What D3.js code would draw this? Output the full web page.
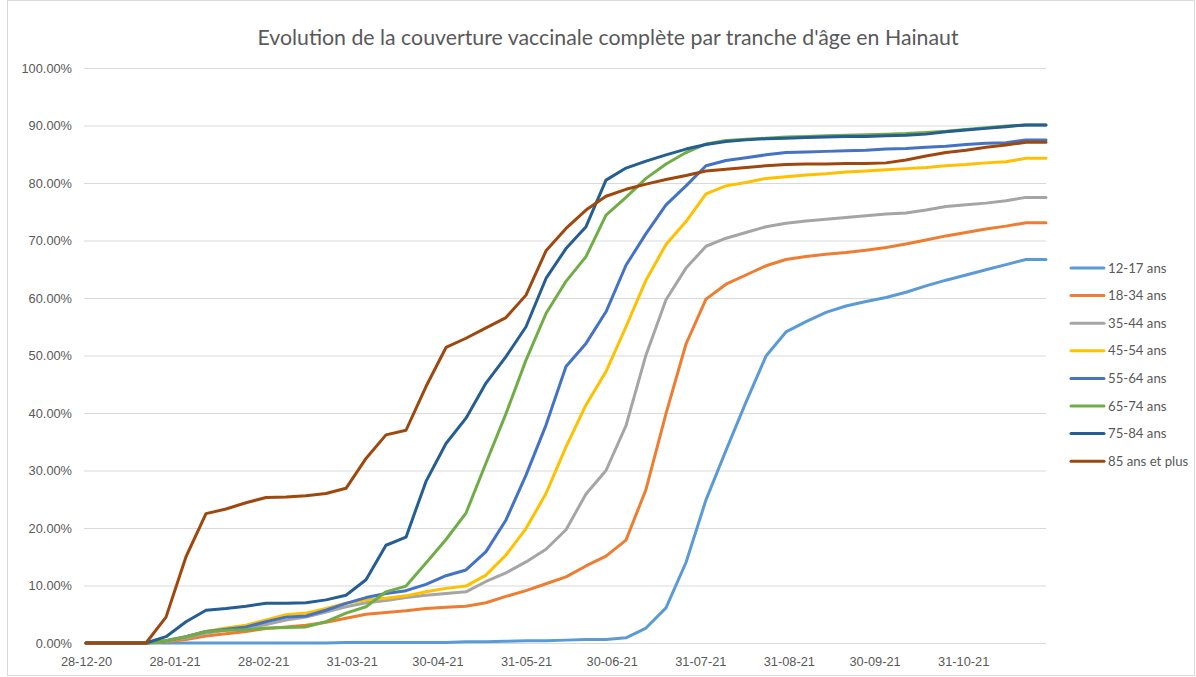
<!DOCTYPE html>
<html lang="fr">
<head>
<meta charset="utf-8">
<script src="https://cdn.jsdelivr.net/npm/d3@7"></script>
<title>Couverture vaccinale Hainaut</title>
<style>
  body { margin: 0; background: #fff; }
  svg { display: block; font-family: Lato, "Liberation Sans", sans-serif; }
  .grid line { stroke: #d9d9d9; stroke-width: 1; }
  .tick text { fill: #595959; font-size: 12.8px; }
</style>
</head>
<body>
<svg width="1196" height="677"></svg>
<script>
// semaines (lundis) du 28-12-20 au 29-11-21
var startDate = "2020-12-28";
var endDate = "2021-11-29";

var seriesNames = ["12-17 ans", "18-34 ans", "35-44 ans", "45-54 ans",
                   "55-64 ans", "65-74 ans", "75-84 ans", "85 ans et plus"];
var seriesColors = ["#5b9bd5", "#ed7d31", "#a5a5a5", "#ffc000",
                    "#4472c4", "#70ad47", "#255e91", "#9e480e"];

// valeurs en %
var v12_17 = [0,0,0,0,0,0,0,0,0,0,0,0,0,0.1,0.1,0.1,0.1,0.1,0.1,0.2,0.2,0.3,0.4,0.4,0.5,0.6,0.6,0.9,
  2.6,6.1,14.0,24.9,33.5,41.9,49.9,54.1,55.9,57.5,58.6,59.4,60.1,61.0,62.1,63.1,64.0,64.9,65.8,66.7,66.7];
var v18_34 = [0,0,0,0,0.2,0.6,1.2,1.6,2.0,2.5,2.8,3.1,3.6,4.3,5.0,5.3,5.6,6.0,6.2,6.4,7.0,8.1,9.1,10.3,11.5,13.4,15.1,17.9,
  26.7,39.9,52.0,59.8,62.4,64.0,65.6,66.7,67.2,67.6,67.9,68.3,68.8,69.4,70.1,70.8,71.4,72.0,72.5,73.1,73.1];
var v35_44 = [0,0,0,0,0.3,0.9,1.7,2.2,2.6,3.2,4.0,4.5,5.4,6.3,7.0,7.4,7.9,8.3,8.6,8.9,10.7,12.2,14.1,16.3,19.7,25.9,30.0,37.8,
  50.1,59.7,65.2,69.0,70.4,71.4,72.4,73.0,73.4,73.7,74.0,74.3,74.6,74.8,75.3,75.9,76.2,76.5,76.9,77.5,77.5];
var v45_54 = [0,0,0,0,0.4,1.1,2.0,2.6,3.1,4.0,4.9,5.2,6.0,6.9,7.5,7.8,8.2,8.9,9.5,9.9,11.8,15.3,19.9,26.0,34.1,41.4,47.2,55.0,
  63.1,69.3,73.3,78.1,79.5,80.1,80.8,81.1,81.4,81.6,81.9,82.1,82.3,82.5,82.7,83.0,83.2,83.5,83.7,84.3,84.3];
var v55_64 = [0,0,0,0,0.4,1.1,2.0,2.4,2.8,3.7,4.5,4.7,5.7,6.9,7.9,8.6,9.1,10.2,11.7,12.7,15.9,21.4,29.2,37.9,48.1,52.1,57.6,65.7,
  71.2,76.2,79.5,83.0,83.9,84.4,84.9,85.3,85.4,85.5,85.6,85.7,85.9,86.0,86.2,86.4,86.7,86.9,87.0,87.5,87.5];
var v65_74 = [0,0,0,0,0.4,1.1,2.0,2.2,2.3,2.6,2.7,2.8,3.7,5.2,6.3,8.9,9.9,13.9,18.0,22.6,31.3,39.9,49.2,57.3,62.9,67.2,74.4,77.5,
  80.8,83.3,85.3,86.8,87.4,87.6,87.8,88.0,88.1,88.2,88.3,88.4,88.5,88.6,88.8,89.0,89.3,89.6,89.9,90.1,90.1];
var v75_84 = [0,0,0,0,1.1,3.7,5.7,6.0,6.4,6.9,6.9,7.0,7.5,8.3,11.0,17.0,18.4,28.1,34.7,39.1,45.2,49.8,55.0,63.4,68.6,72.4,80.5,82.6,
  83.8,84.9,85.9,86.7,87.2,87.5,87.7,87.8,87.9,88.0,88.1,88.1,88.2,88.3,88.5,88.9,89.2,89.5,89.8,90.1,90.1];
var v85plus = [0,0,0,0,4.5,15.0,22.5,23.3,24.4,25.3,25.4,25.6,26.0,26.9,32.1,36.2,37.0,44.6,51.4,53.0,54.8,56.6,60.5,68.2,72.1,75.3,77.7,78.9,
  79.8,80.6,81.3,82.1,82.4,82.7,83.0,83.2,83.3,83.3,83.4,83.4,83.5,84.0,84.7,85.3,85.7,86.2,86.6,87.1,87.1];

var seriesValues = [v12_17, v18_34, v35_44, v45_54, v55_64, v65_74, v75_84, v85plus];

var xTickDates = ["2020-12-28","2021-01-28","2021-02-28","2021-03-31","2021-04-30","2021-05-31",
                  "2021-06-30","2021-07-31","2021-08-31","2021-09-30","2021-10-31"];
var yTicks = [0,10,20,30,40,50,60,70,80,90,100];

var parse = d3.timeParse("%Y-%m-%d");
var weeks = d3.timeMonday.range(parse(startDate), d3.timeDay.offset(parse(endDate), 1));

var svg = d3.select("svg");
var marge = {top: 68, left: 86, right: 1046, bottom: 643};

// cadre du graphique
svg.append("rect")
  .attr("x", 7.5).attr("y", 0.5).attr("width", 1187).attr("height", 675)
  .attr("fill", "none").attr("stroke", "#d9d9d9");

var x = d3.scaleTime()
  .domain([parse(startDate), parse(endDate)])
  .range([marge.left, marge.right]);
var y = d3.scaleLinear()
  .domain([0, 100])
  .range([marge.bottom, marge.top]);

// grille + axe y
var yAxis = svg.append("g")
  .attr("class", "grid")
  .attr("transform", "translate(" + marge.left + ",0)")
  .call(d3.axisLeft(y).tickValues(yTicks)
    .tickSize(-(marge.right - marge.left + 2))
    .tickPadding(0)
    .tickFormat(function(d){ return d3.format(".2%")(d / 100); }));
yAxis.select(".domain").remove();
yAxis.selectAll(".tick line").attr("x1", -2).attr("x2", marge.right - marge.left);
yAxis.selectAll(".tick text").attr("x", -14);

// axe x
var xAxis = svg.append("g")
  .attr("transform", "translate(0," + marge.bottom + ")")
  .call(d3.axisBottom(x)
    .tickValues(xTickDates.map(parse))
    .tickSize(0)
    .tickPadding(14)
    .tickFormat(d3.timeFormat("%d-%m-%y")));
xAxis.select(".domain").remove();

// courbes
var line = d3.line()
  .x(function(d, i){ return x(weeks[i]); })
  .y(function(d){ return y(d); });

svg.append("g")
  .selectAll("path")
  .data(seriesValues)
  .enter()
  .append("path")
  .attr("d", line)
  .attr("fill", "none")
  .attr("stroke", function(d, i){ return seriesColors[i]; })
  .attr("stroke-width", 3)
  .attr("stroke-linejoin", "round")
  .attr("stroke-linecap", "round");

// titre
svg.append("text")
  .attr("x", 608).attr("y", 45)
  .attr("text-anchor", "middle")
  .attr("fill", "#595959")
  .style("font-size", "21.3px")
  .text("Evolution de la couverture vaccinale complète par tranche d'âge en Hainaut");

// légende
var legend = svg.append("g")
  .selectAll("g")
  .data(seriesNames)
  .enter()
  .append("g")
  .attr("transform", function(d, i){ return "translate(1071," + (268 + i * 27.6) + ")"; });
legend.append("line")
  .attr("x1", 0).attr("x2", 33)
  .attr("stroke", function(d, i){ return seriesColors[i]; })
  .attr("stroke-width", 3)
  .attr("stroke-linecap", "round");
legend.append("text")
  .attr("x", 37).attr("dy", "0.35em")
  .attr("fill", "#595959")
  .style("font-size", "13.2px")
  .text(function(d){ return d; });
</script>
</body>
</html>
